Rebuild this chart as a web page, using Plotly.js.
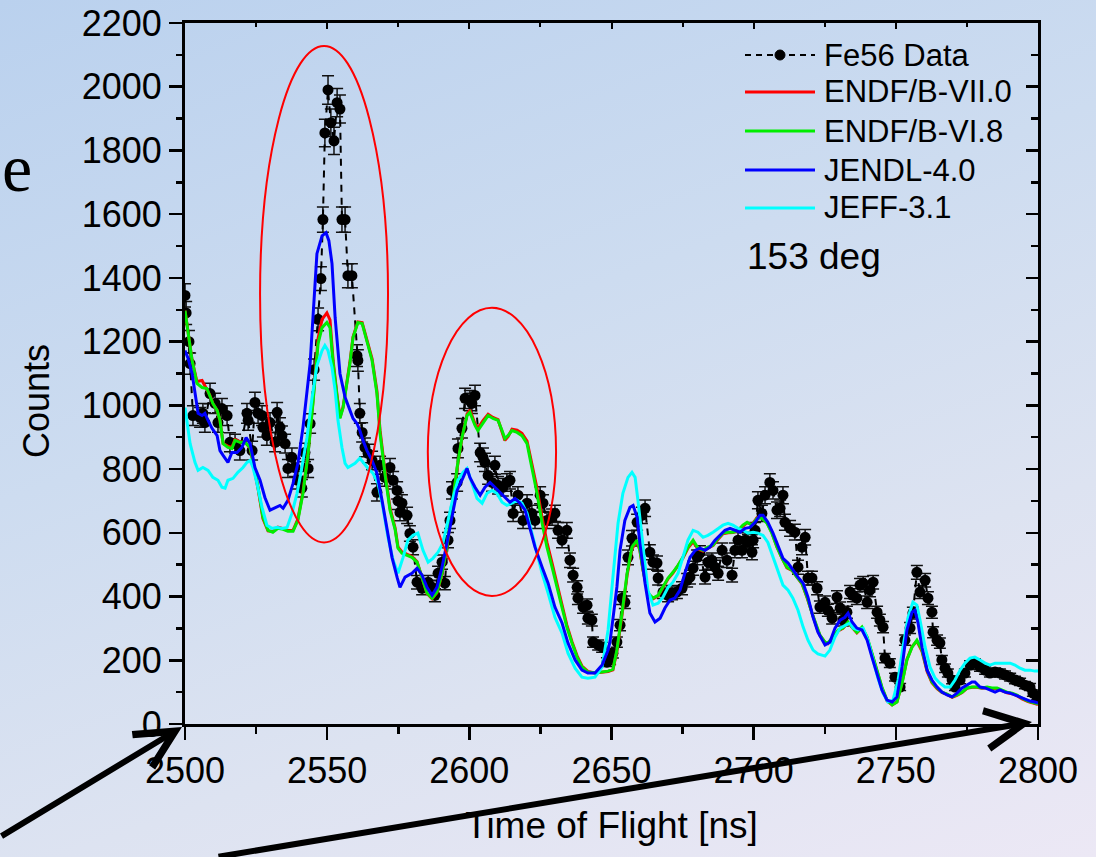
<!DOCTYPE html>
<html>
<head>
<meta charset="utf-8">
<script src="https://cdn.plot.ly/plotly-3.0.1.min.js"></script>
<style>
html,body{margin:0;padding:0;width:1096px;height:857px;overflow:hidden;}
body{background:linear-gradient(160deg,#bad1ee 0%,#cddcf0 40%,#dde3f1 70%,#ece8f5 100%);}
#chart{width:1096px;height:857px;}
</style>
</head>
<body>
<div id="chart"></div>
<script>
// ---- Fe56 measured data (time of flight [ns], counts) ----
const tofData = [
2500.0,2500.4,2501.4,2501.8,2502.8,2505.3,2506.3,2507.0,2508.8,2510.6,
2511.6,2513.0,2514.8,2515.8,2517.6,2519.3,2521.8,2522.2,2523.6,2524.6,
2525.7,2527.1,2527.4,2528.8,2529.9,2531.7,2532.4,2533.4,2534.1,2535.2,
2536.2,2537.6,2538.7,2539.7,2541.1,2542.2,2543.3,2544.0,2545.4,2546.8,
2547.8,2548.5,2549.2,2550.3,2551.3,2552.4,2553.5,2554.5,2555.2,2556.3,
2557.3,2558.7,2560.5,2560.8,2561.5,2562.3,2563.3,2564.4,2565.8,2567.5,
2568.6,2570.3,2572.1,2573.2,2574.6,2574.9,2575.6,2576.3,2578.1,2579.1,
2580.2,2581.6,2583.4,2585.5,2586.9,2587.9,2589.0,2590.4,2591.4,2592.5,
2593.2,2593.9,2595.7,2596.0,2597.4,2598.5,2600.2,2600.9,2602.0,2603.8,
2604.8,2605.5,2606.6,2608.0,2609.0,2610.1,2611.8,2613.2,2614.3,2615.4,
2617.1,2618.9,2620.3,2622.0,2623.1,2624.9,2625.9,2627.3,2629.1,2630.1,
2631.2,2632.6,2634.3,2635.4,2636.5,2637.9,2638.2,2640.0,2641.4,2641.7,
2643.1,2643.5,2645.3,2646.7,2648.4,2649.5,2650.5,2651.9,2653.0,2653.7,
2654.7,2655.8,2657.2,2659.0,2660.7,2661.8,2663.5,2664.6,2666.0,2666.4,
2668.1,2669.9,2671.3,2673.0,2674.8,2676.6,2677.6,2678.7,2680.1,2681.1,
2682.9,2683.9,2685.3,2686.4,2687.5,2688.9,2690.6,2692.4,2693.4,2694.5,
2695.9,2697.0,2698.0,2699.4,2699.8,2700.5,2701.5,2702.9,2704.0,2705.7,
2706.8,2708.2,2709.3,2710.3,2711.0,2712.8,2714.5,2715.6,2717.0,2718.1,
2719.1,2720.5,2722.3,2723.3,2725.1,2726.1,2727.6,2729.3,2730.4,2731.4,
2732.8,2733.9,2734.9,2736.3,2737.4,2738.5,2739.9,2740.9,2742.0,2743.4,
2744.4,2745.5,2746.2,2747.9,2749.7,2751.5,2753.2,2755.0,2756.0,2757.4,
2758.5,2760.3,2761.3,2762.7,2763.1,2764.5,2765.5,2766.2,2767.3,2768.3,
2769.8,2770.8,2772.6,2774.3,2776.1,2777.8,2779.6,2781.4,2783.1,2784.9,
2786.6,2788.4,2790.2,2791.9,2793.7,2795.4,2797.2,2798.2,2799.7
];
const countsData = [
1345,1290,1200,1131,968,962,975,946,1037,1006,
946,990,968,884,880,858,975,953,858,1009,
975,968,931,905,946,884,978,931,905,880,
802,837,805,765,740,852,802,943,1112,1270,
1398,1583,1855,1990,1887,1830,1950,1930,1583,1583,
1407,1407,1156,1141,975,915,868,849,827,727,
812,774,805,765,733,700,664,693,655,598,
555,445,426,445,429,404,473,508,442,577,
639,733,758,865,928,1022,1015,1006,1031,852,
837,821,780,758,812,749,743,758,765,661,
718,639,693,661,639,718,693,639,649,661,
608,577,608,514,467,429,395,367,373,332,
326,257,248,241,194,201,222,257,310,395,
382,523,583,633,655,677,539,508,505,458,
414,404,410,414,426,451,461,489,523,536,
461,508,514,492,473,545,514,467,545,577,
545,577,571,539,577,608,702,661,718,758,
733,671,677,718,633,614,602,492,555,586,
458,458,426,367,382,357,332,398,364,326,
351,414,404,395,436,442,382,420,445,351,
326,304,207,191,147,116,263,301,348,476,
414,451,395,351,288,263,254,201,175,160,
138,116,138,160,185,191,179,169,160,163,
160,154,147,138,132,122,116,97,85
];

// ---- ENDF/B-VII.0 and ENDF/B-VI.8 (shared time grid) ----
const tofENDF = [
2500.0,2501.1,2502.5,2504.2,2506.0,2507.7,2508.8,2509.8,2511.3,2512.3,
2513.4,2515.1,2516.5,2517.6,2519.3,2521.1,2522.9,2523.9,2525.7,2527.4,
2529.2,2530.9,2532.7,2534.5,2536.2,2538.0,2539.7,2541.5,2543.3,2545.0,
2546.8,2548.2,2549.9,2551.0,2552.1,2553.5,2554.5,2555.6,2557.0,2558.0,
2559.1,2560.8,2562.3,2564.0,2565.8,2567.5,2568.6,2570.3,2572.1,2573.9,
2574.9,2576.3,2578.1,2579.8,2581.6,2583.4,2585.1,2586.9,2588.6,2590.4,
2592.1,2593.9,2595.7,2597.4,2599.2,2600.2,2602.0,2603.0,2604.8,2606.6,
2608.3,2610.1,2611.5,2612.5,2613.6,2615.0,2616.8,2618.5,2620.3,2622.0,
2623.8,2625.6,2627.3,2629.1,2630.8,2632.6,2634.3,2636.1,2637.9,2639.6,
2641.7,2644.2,2646.7,2648.8,2650.5,2651.9,2653.7,2655.5,2657.2,2659.0,
2660.0,2661.1,2662.8,2664.6,2666.4,2668.1,2669.9,2671.6,2673.4,2675.1,
2676.9,2678.7,2680.4,2682.2,2683.9,2685.7,2687.5,2689.2,2691.0,2692.7,
2694.5,2696.2,2697.7,2699.4,2701.2,2702.9,2704.7,2706.4,2708.2,2710.0,
2711.7,2713.5,2715.2,2717.0,2718.8,2720.5,2722.3,2723.3,2725.1,2726.1,
2727.9,2729.7,2731.4,2733.2,2734.6,2736.3,2738.1,2739.9,2741.6,2743.4,
2745.1,2746.9,2748.7,2750.4,2752.2,2753.9,2755.7,2757.4,2759.2,2761.0,
2762.7,2764.5,2766.2,2768.0,2769.8,2771.5,2773.3,2775.0,2776.8,2778.5,
2780.3,2782.1,2783.8,2785.6,2787.3,2789.1,2790.9,2792.6,2794.4,2796.5,
2798.9,2800.0
];
const countsENDF7 = [
1297,1230,1141,1075,1078,1050,1031,1006,984,953,
880,872,868,893,886,884,866,822,738,645,
606,604,618,613,607,608,643,730,852,1012,
1210,1270,1290,1268,1140,1030,962,995,1071,1135,
1215,1262,1260,1207,1146,1045,922,795,678,615,
556,540,534,526,510,462,410,393,412,470,
552,676,802,897,972,985,942,927,952,972,
962,955,918,890,902,925,922,912,888,815,
740,648,570,505,440,375,310,258,214,182,
165,160,162,165,170,228,342,468,550,574,
544,482,410,393,402,428,456,474,496,520,
552,572,549,543,552,560,580,597,600,601,
607,622,632,626,648,648,632,601,556,520,
490,482,460,440,396,346,300,278,256,252,
270,292,300,318,302,286,302,270,220,167,
114,73,60,70,130,203,243,260,228,165,
130,111,99,93,84,90,99,112,115,115,
112,114,111,111,105,98,95,89,79,70,
64,61
];
const countsENDF6 = [
1297,1225,1141,1069,1056,1053,1031,1006,984,953,
880,868,865,890,884,884,868,827,743,649,
608,602,614,611,605,605,639,724,849,1006,
1194,1244,1260,1244,1131,1025,959,993,1069,1131,
1213,1260,1257,1203,1141,1037,912,787,671,610,
552,536,530,523,508,461,411,395,414,473,
555,680,805,899,968,978,937,921,946,968,
959,953,921,896,905,921,915,905,880,805,
724,630,555,492,429,367,304,254,210,179,
163,160,163,166,172,232,348,473,555,577,
545,483,411,395,404,429,458,476,498,523,
555,577,552,545,555,561,583,599,602,602,
608,624,633,624,646,646,630,599,555,520,
492,483,461,442,398,348,301,279,257,254,
273,295,301,320,304,288,304,273,222,169,
116,75,60,69,128,201,241,263,232,169,
132,113,100,94,85,91,100,113,116,116,
113,116,113,113,107,100,97,91,81,72,
66,63
];

// ---- JENDL-4.0 ----
const tofJENDL = [
2500.0,2501.1,2502.5,2503.5,2504.6,2506.0,2507.0,2508.1,2509.5,2511.3,
2512.3,2513.4,2515.1,2516.5,2518.3,2520.0,2521.5,2522.9,2524.6,2526.4,
2528.1,2529.9,2531.7,2533.4,2534.5,2536.2,2538.0,2539.7,2541.5,2542.9,
2544.0,2545.0,2546.4,2548.2,2549.6,2550.6,2551.7,2552.8,2553.5,2554.5,
2556.3,2558.0,2559.1,2560.5,2561.5,2562.6,2564.0,2565.8,2567.5,2569.3,
2571.0,2572.8,2574.6,2575.6,2577.4,2579.8,2581.6,2583.4,2585.1,2586.9,
2588.6,2590.4,2592.1,2593.9,2595.7,2597.4,2599.2,2600.2,2602.0,2603.8,
2605.5,2607.3,2609.0,2610.8,2612.5,2614.3,2616.1,2617.8,2619.6,2621.3,
2623.1,2625.6,2627.7,2630.1,2632.6,2634.7,2637.2,2639.6,2641.7,2644.2,
2646.7,2648.8,2649.5,2650.5,2651.9,2653.0,2654.7,2656.5,2657.6,2659.0,
2660.0,2661.8,2663.5,2665.3,2667.1,2668.8,2670.6,2672.3,2674.1,2675.8,
2677.6,2679.4,2681.1,2682.9,2684.6,2686.4,2688.2,2689.9,2691.7,2693.4,
2695.2,2697.0,2698.7,2700.5,2702.2,2703.3,2705.0,2706.8,2708.6,2710.3,
2712.1,2713.8,2715.6,2717.4,2719.1,2720.9,2722.6,2725.1,2726.8,2728.6,
2730.4,2732.1,2733.2,2734.6,2736.3,2738.1,2739.9,2741.6,2743.4,2745.1,
2746.9,2748.7,2750.4,2752.2,2753.9,2755.7,2756.7,2757.8,2759.2,2761.0,
2762.7,2764.5,2766.2,2768.0,2769.8,2771.5,2773.3,2775.0,2776.8,2777.8,
2779.6,2781.4,2783.1,2784.9,2786.6,2788.4,2790.2,2791.9,2793.7,2795.4,
2797.2,2798.9,2800.0
];
const countsJENDL = [
1172,1147,1100,1037,975,968,975,953,928,905,
858,843,821,852,852,868,899,880,805,765,
711,671,680,686,677,702,755,818,931,1037,
1131,1275,1476,1532,1542,1517,1445,1275,1203,1100,
1025,984,959,943,921,890,858,827,787,702,
608,523,460,429,461,473,489,467,429,404,
429,492,567,649,733,765,802,774,743,718,
743,758,743,727,711,696,708,693,671,617,
555,492,442,367,317,254,201,169,160,160,
185,232,260,330,430,545,639,680,686,649,
567,442,348,320,332,364,389,395,420,473,
523,545,552,545,555,577,592,608,614,608,
602,614,617,633,655,655,633,599,555,520,
505,483,461,442,398,335,288,248,257,301,
326,335,348,320,301,295,263,210,160,107,
75,69,85,179,295,351,357,317,241,169,
138,116,100,91,85,97,113,122,132,132,
116,113,107,100,107,100,97,91,85,78,
72,69,66
];

// ---- JEFF-3.1 ----
const tofJEFF = [
2500.0,2500.7,2501.8,2503.5,2504.6,2506.3,2508.1,2509.8,2511.6,2513.0,
2514.1,2515.1,2516.9,2518.6,2520.4,2521.8,2522.9,2523.9,2525.3,2527.1,
2528.8,2530.6,2532.4,2534.1,2535.9,2537.6,2539.4,2541.1,2542.9,2544.7,
2546.4,2548.2,2549.2,2550.3,2551.7,2552.8,2553.8,2555.2,2556.3,2557.3,
2558.7,2559.8,2561.5,2562.6,2564.4,2566.1,2567.9,2569.6,2571.4,2573.2,
2574.9,2576.7,2578.4,2580.2,2581.9,2583.7,2585.5,2587.2,2589.0,2590.7,
2592.5,2594.3,2596.0,2597.8,2599.2,2600.9,2602.7,2604.5,2606.2,2608.0,
2609.7,2611.5,2613.2,2615.0,2616.8,2618.5,2620.3,2622.0,2623.8,2625.6,
2627.7,2630.1,2632.6,2634.7,2637.2,2639.6,2641.7,2644.2,2646.7,2647.7,
2648.8,2650.5,2652.3,2654.0,2655.8,2657.2,2658.3,2659.3,2661.1,2662.8,
2664.6,2666.4,2668.1,2669.9,2671.6,2673.4,2675.1,2676.9,2678.7,2680.4,
2682.2,2683.9,2685.7,2687.5,2689.2,2691.0,2692.7,2694.5,2696.2,2698.0,
2699.8,2701.5,2703.3,2705.0,2706.8,2708.6,2710.3,2712.1,2713.8,2715.6,
2717.4,2719.1,2720.9,2722.6,2725.1,2726.8,2728.6,2730.4,2732.1,2733.9,
2734.9,2736.7,2738.5,2740.2,2742.0,2743.7,2745.5,2747.2,2749.0,2750.8,
2752.5,2754.3,2756.0,2757.4,2758.5,2760.3,2762.0,2763.8,2765.5,2767.3,
2769.1,2770.8,2772.6,2774.3,2776.1,2777.8,2779.6,2781.4,2783.1,2784.9,
2786.6,2788.4,2790.2,2791.9,2793.7,2795.4,2797.2,2798.9,2800.0
];
const countsJEFF = [
993,953,880,821,796,805,796,774,765,743,
740,765,771,790,805,821,827,805,755,680,
624,614,617,614,617,661,724,805,899,1025,
1125,1172,1188,1172,1119,1047,953,868,818,805,
812,818,834,821,802,787,755,680,586,514,
473,523,577,592,599,545,508,520,539,567,
639,711,765,790,802,755,708,693,724,733,
724,696,686,693,702,693,661,599,536,473,
411,335,285,222,175,147,144,147,179,232,
295,461,630,724,774,790,774,702,545,420,
373,379,398,429,445,473,523,577,608,602,
586,592,602,614,624,630,624,614,608,599,
602,599,592,570,523,476,436,420,395,357,
304,263,232,220,213,232,273,301,310,317,
301,295,301,263,201,144,97,69,75,138,
241,335,382,373,326,241,179,144,128,116,
116,138,169,191,207,210,201,191,185,191,
191,191,191,185,175,169,169,166,166
];

// ---- text ----
const legendNames = ["Fe56 Data","ENDF/B-VII.0","ENDF/B-VI.8","JENDL-4.0","JEFF-3.1"];
const legendColors = ["#000000","#ff0000","#00ee00","#0000ff","#00ffff"];
const angleLabel = "153 deg";
const xTitle = "Time of Flight [ns]";
const yTitle = "Counts";

const FONT = "Liberation Sans, Arial, Helvetica, sans-serif";

const traces = [
  {x: tofData, y: countsData, type: "scatter", mode: "lines+markers", name: legendNames[0],
   line: {color: "#000", width: 2, dash: "7px,6px"},
   marker: {color: "#000", size: 11},
   error_y: {type: "sqrt", visible: true, color: "#111", thickness: 1.5, width: 6},
   xaxis: "x", yaxis: "y"},
  {x: tofENDF, y: countsENDF7, type: "scatter", mode: "lines", name: legendNames[1],
   line: {color: legendColors[1], width: 3}, xaxis: "x", yaxis: "y"},
  {x: tofENDF, y: countsENDF6, type: "scatter", mode: "lines", name: legendNames[2],
   line: {color: legendColors[2], width: 3}, xaxis: "x", yaxis: "y"},
  {x: tofJEFF, y: countsJEFF, type: "scatter", mode: "lines", name: legendNames[4],
   line: {color: legendColors[4], width: 3}, xaxis: "x2", yaxis: "y2"},
  {x: tofJENDL, y: countsJENDL, type: "scatter", mode: "lines", name: legendNames[3],
   line: {color: legendColors[3], width: 3}, xaxis: "x2", yaxis: "y2"}
];

// plot area in pixels: left 185, right 1038, top 23, bottom 724
const PL = 185, PR = 1038, PT = 23, PB = 724;
const px = v => (v - PL) / (PR - PL);
const py = v => (PB - v) / (PB - PT);

const legendRows = [55, 92, 131, 170, 208];
const shapes = [
  {type: "circle", xref: "x", yref: "y", x0: 2526.4, x1: 2571.4, y0: 570, y1: 2128,
   line: {color: "#ff0000", width: 2}, layer: "above"},
  {type: "circle", xref: "x", yref: "y", x0: 2585.4, x1: 2630.5, y0: 402, y1: 1306,
   line: {color: "#ff0000", width: 2}, layer: "above"},
  // legend samples
  {type: "line", xref: "paper", yref: "paper", x0: px(745), x1: px(815), y0: py(legendRows[0]), y1: py(legendRows[0]),
   line: {color: "#000", width: 2, dash: "6px,5px"}},
  {type: "circle", xref: "paper", yref: "paper", x0: px(775), x1: px(785), y0: py(legendRows[0] + 5), y1: py(legendRows[0] - 5),
   fillcolor: "#000", line: {color: "#000", width: 1}}
];
for (let i = 1; i < 5; i++) {
  shapes.push({type: "line", xref: "paper", yref: "paper", x0: px(745), x1: px(815),
    y0: py(legendRows[i]), y1: py(legendRows[i]), line: {color: legendColors[i], width: 3}});
}

const annotations = [];
for (let i = 0; i < 5; i++) {
  annotations.push({xref: "paper", yref: "paper", x: px(822), y: py(legendRows[i]),
    xanchor: "left", yanchor: "middle", showarrow: false, text: legendNames[i],
    font: {family: FONT, size: 31, color: "#000"}});
}
annotations.push({xref: "paper", yref: "paper", x: px(745), y: py(256), xanchor: "left", yanchor: "middle",
  showarrow: false, text: angleLabel, font: {family: FONT, size: 37, color: "#000"}});
annotations.push({xref: "paper", yref: "paper", x: px(0), y: py(168), xanchor: "left", yanchor: "middle",
  showarrow: false, text: "e", font: {family: "Liberation Serif, Times New Roman, serif", size: 68, color: "#000"}});
// y-axis title placed like the reference (centred lower than the plot middle)
annotations.push({xref: "paper", yref: "paper", x: px(37), y: py(401), xanchor: "center", yanchor: "middle",
  showarrow: false, textangle: -90, text: yTitle, font: {family: FONT, size: 36, color: "#000"}});
// arrows
annotations.push({xref: "paper", yref: "paper", x: px(182), y: py(727), ax: -195, ay: 110,
  axref: "pixel", ayref: "pixel", text: "", showarrow: true, arrowhead: 5, arrowsize: 1.25,
  arrowwidth: 6, arrowcolor: "#000", standoff: 0});
annotations.push({xref: "paper", yref: "paper", x: px(1032), y: py(722), ax: -815, ay: 139,
  axref: "pixel", ayref: "pixel", text: "", showarrow: true, arrowhead: 5, arrowsize: 1.25,
  arrowwidth: 6, arrowcolor: "#000", standoff: 0});

const common = {showgrid: false, zeroline: false, showline: true, linecolor: "#000", linewidth: 3,
  tickcolor: "#000", fixedrange: true};

const layout = {
  width: 1096, height: 857, autosize: false,
  margin: {l: PL, r: 1096 - PR, t: PT, b: 857 - PB, pad: 0},
  paper_bgcolor: "rgba(0,0,0,0)", plot_bgcolor: "rgba(0,0,0,0)",
  font: {family: FONT, color: "#000", size: 36},
  showlegend: false,
  xaxis: Object.assign({}, common, {
    range: [2500, 2800], tick0: 2500, dtick: 50, ticks: "outside", ticklen: 13, tickwidth: 2.5,
    tickfont: {family: FONT, size: 36, color: "#000"},
    minor: {dtick: 25, ticks: "outside", ticklen: 7, tickwidth: 2.5, tickcolor: "#000"},
    title: {text: xTitle, font: {family: FONT, size: 37, color: "#000"}, standoff: 22}
  }),
  yaxis: Object.assign({}, common, {
    range: [0, 2200], tick0: 0, dtick: 200, ticks: "outside", ticklen: 13, tickwidth: 2.5,
    tickfont: {family: FONT, size: 36, color: "#000"},
    minor: {dtick: 100, ticks: "outside", ticklen: 6, tickwidth: 2.5, tickcolor: "#000"}
  }),
  xaxis2: Object.assign({}, common, {
    overlaying: "x", side: "top", anchor: "y2", range: [2500, 2800], tick0: 2500, dtick: 50,
    ticks: "inside", ticklen: 6, tickwidth: 2, showticklabels: false,
    minor: {dtick: 25, ticks: "inside", ticklen: 4, tickwidth: 2, tickcolor: "#000"}
  }),
  yaxis2: Object.assign({}, common, {
    overlaying: "y", side: "right", anchor: "x2", range: [0, 2200], tick0: 0, dtick: 200,
    ticks: "inside", ticklen: 12, tickwidth: 2.5, showticklabels: false,
    minor: {dtick: 100, ticks: "inside", ticklen: 7, tickwidth: 2.5, tickcolor: "#000"}
  }),
  shapes: shapes,
  annotations: annotations
};

Plotly.newPlot("chart", traces, layout, {displayModeBar: false, staticPlot: true});
</script>
</body>
</html>
